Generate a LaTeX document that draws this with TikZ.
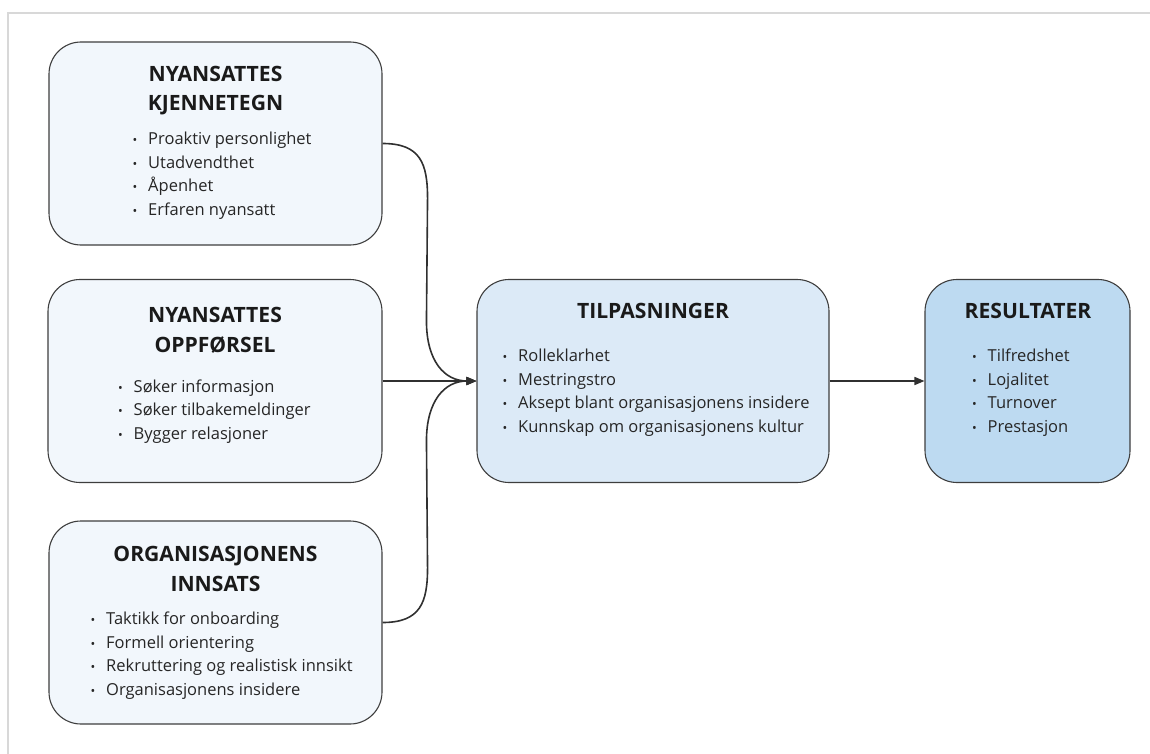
\documentclass[tikz,border=0pt]{standalone}
\usepackage{fontspec}
\setmainfont{Open Sans}
\usetikzlibrary{arrows.meta,calc}

\definecolor{framegray}{HTML}{D8D8D8}
\definecolor{edgegray}{HTML}{3E3E3E}
\definecolor{paleblue}{HTML}{F2F7FC}
\definecolor{midblue}{HTML}{DCEAF7}
\definecolor{deepblue}{HTML}{BDDAF1}
\definecolor{titleink}{HTML}{1A1A1A}
\definecolor{bodyink}{HTML}{262626}
\definecolor{wireink}{HTML}{303030}

\newcommand\itemdot{\makebox[15.5pt][l]{\fontsize{12.5}{12.5}\selectfont •}}

\tikzset{
  card/.style={draw=edgegray, line width=1.1pt, rounded corners=32pt,
    inner sep=0pt, minimum height=203pt},
  headline/.style={anchor=base, inner sep=0pt, text=titleink,
    font=\fontsize{21.1}{25}\selectfont\bfseries},
  entry/.style={anchor=base west, inner sep=0pt, text=bodyink,
    font=\fontsize{16.5}{20}\selectfont},
  wire/.style={draw=wireink, line width=1.6pt,
    -{Triangle[length=10pt,width=8pt]}},
  framerule/.style={draw=framegray, line width=2pt}
}

\begin{document}
\begin{tikzpicture}[x=1pt,y=-1pt]
\useasboundingbox (0,0) rectangle (1150,754);

% outer frame edges
\draw[framerule] (7,13) -- (1150,13);
\draw[framerule] (8,13) -- (8,754);

% boxes
\node[card, fill=paleblue, minimum width=333pt] (b1) at (215.5,143.5) {};
\node[card, fill=paleblue, minimum width=334pt] (b2) at (215,381) {};
\node[card, fill=paleblue, minimum width=333pt] (b3) at (215.5,622.5) {};
\node[card, fill=midblue,  minimum width=352pt] (tp) at (653,381) {};
\node[card, fill=deepblue, minimum width=205pt] (res) at (1027.5,381) {};

% box 1
\node[headline] (b1t1) at (215.5,81.5) {NYANSATTES};
\node[headline] (b1t2) at (215.5,111) {KJENNETEGN};
\foreach \t [count=\i from 0] in {Proaktiv personlighet, Utadvendthet, Åpenhet, Erfaren nyansatt}
  \node[entry] (b1e\i) at (132.5,144.5+23.5*\i) {\itemdot\t};

% box 2
\node[headline] (b2t1) at (215,322) {NYANSATTES};
\node[headline] (b2t2) at (215,352) {OPPFØRSEL};
\foreach \t [count=\i from 0] in {Søker informasjon, Søker tilbakemeldinger, Bygger relasjoner}
  \node[entry] (b2e\i) at (118,392+23.5*\i) {\itemdot\t};

% box 3
\node[headline] (b3t1) at (215.5,561.5) {ORGANISASJONENS};
\node[headline] (b3t2) at (215.5,591) {INNSATS};
\foreach \t [count=\i from 0] in {Taktikk for onboarding, Formell orientering, Rekruttering og realistisk innsikt, Organisasjonens insidere}
  \node[entry] (b3e\i) at (90.5,624.5+23.5*\i) {\itemdot\t};

% adjustments box
\node[headline] (tpt) at (653,318) {TILPASNINGER};
\foreach \t [count=\i from 0] in {Rolleklarhet, Mestringstro, Aksept blant organisasjonens insidere, Kunnskap om organisasjonens kultur}
  \node[entry] (tpe\i) at (502.5,361.5+23.5*\i) {\itemdot\t};

% results box
\node[headline] (rest) at (1028,318) {RESULTATER};
\foreach \t [count=\i from 0] in {Tilfredshet, Lojalitet, Turnover, Prestasjon}
  \node[entry] (rese\i) at (972,361.5+23.5*\i) {\itemdot\t};

% connectors
\draw[wire] (b1.east) .. controls +(38,0) and +(0,-35) .. ($(b1.east)+(45,55)$)
  -- ($(tp.west)+(-50,-60)$) .. controls +(0,40) and +(-32,0) .. (tp.west);
\draw[wire] (b2.east) -- (tp.west);
\draw[wire] (b3.east) .. controls +(38,0) and +(0,35) .. ($(b3.east)+(45,-55)$)
  -- ($(tp.west)+(-50,60)$) .. controls +(0,-40) and +(-32,0) .. (tp.west);
\draw[wire] (tp.east) -- (res.west);
\end{tikzpicture}
\end{document}
